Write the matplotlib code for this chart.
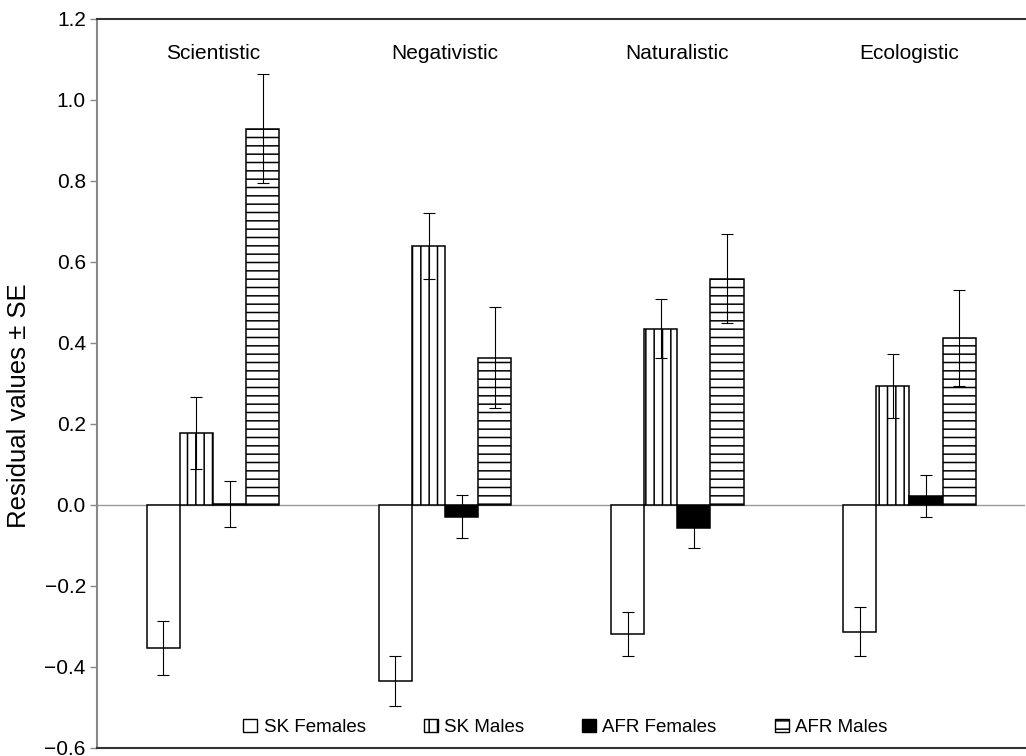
import numpy as np
import matplotlib
matplotlib.use("Agg")
import matplotlib.pyplot as plt
from matplotlib.patches import Patch

plt.rcParams["font.family"] = ["Liberation Sans", "DejaVu Sans"]
plt.rcParams["hatch.linewidth"] = 1.1

categories = ["Scientistic", "Negativistic", "Naturalistic", "Ecologistic"]
series_names = ["SK Females", "SK Males", "AFR Females", "AFR Males"]

sk_f = [-0.353, -0.435, -0.319, -0.313]
sk_f_se = [0.067, 0.061, 0.055, 0.060]
sk_m = [0.178, 0.640, 0.435, 0.294]
sk_m_se = [0.088, 0.082, 0.073, 0.078]
afr_f = [0.002, -0.029, -0.058, 0.022]
afr_f_se = [0.056, 0.053, 0.047, 0.051]
afr_m = [0.929, 0.364, 0.559, 0.413]
afr_m_se = [0.135, 0.125, 0.109, 0.118]

values = [sk_f, sk_m, afr_f, afr_m]
errors = [sk_f_se, sk_m_se, afr_f_se, afr_m_se]
fills = ["white", "white", "black", "white"]
hatches = [None, "||", None, "--"]

fig = plt.figure(figsize=(10.26, 7.56), dpi=100)
ax = fig.add_axes([0.0945, 0.0106, 0.905, 0.9643])

x = np.arange(len(categories))
w = 1 / 7
handles = []
for i in range(4):
    pos = x + (i - 1.5) * w
    ax.bar(pos, values[i], width=w, color=fills[i], edgecolor="black",
           linewidth=1.1, hatch=hatches[i], zorder=2)
    ax.errorbar(pos, values[i], yerr=errors[i], fmt="none", ecolor="black",
                elinewidth=0.8, capsize=4.5, capthick=0.8, zorder=3)
    handles.append(Patch(facecolor=fills[i], edgecolor="black", linewidth=1.0,
                         hatch=hatches[i], label=series_names[i]))

ax.axhline(0, color="#999999", linewidth=1.0, zorder=1)

for xi, name in zip(x, categories):
    ax.text(xi, 1.114, name, ha="center", va="center", fontsize=15)

ax.set_xlim(-0.5, 3.5)
ax.set_ylim(-0.6, 1.2)
ax.set_yticks(np.round(np.arange(-0.6, 1.21, 0.2), 1))
ax.set_xticks([])
ax.tick_params(axis="y", direction="out", length=5, width=1, color="#888888",
               labelsize=15, pad=3)
ax.set_ylabel("Residual values ± SE", fontsize=18.5)
ax.yaxis.set_label_coords(-0.071, 0.47)

ax.spines["right"].set_visible(False)
ax.spines["left"].set_color("#888888")
ax.spines["left"].set_linewidth(1.5)
ax.spines["top"].set_color("#333333")
ax.spines["top"].set_linewidth(1.5)
ax.spines["bottom"].set_color("#333333")
ax.spines["bottom"].set_linewidth(1.5)

fig.legend(handles=handles, loc="center", bbox_to_anchor=(0.551, 0.038),
           ncol=4, frameon=False, fontsize=13.5, handlelength=0.75,
           handleheight=0.75, handletextpad=0.33, columnspacing=3.1,
           borderpad=0)

fig.savefig("out.png", dpi=100)
